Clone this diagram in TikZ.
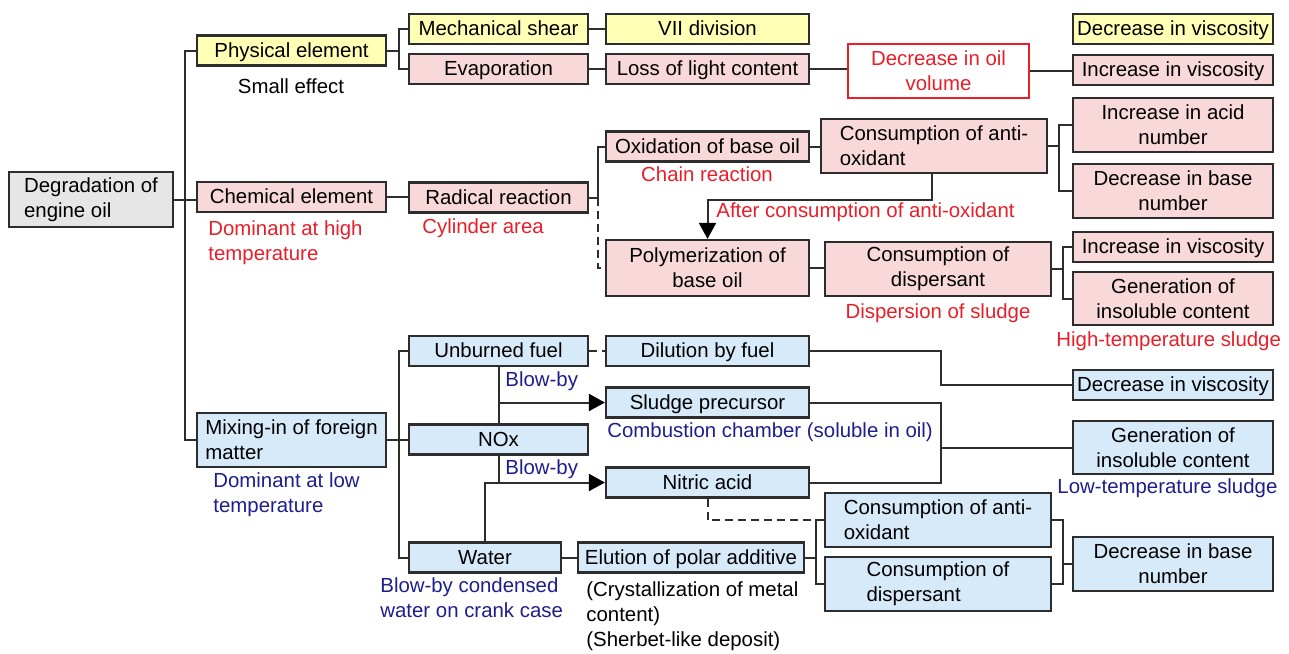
\documentclass[tikz,border=0pt]{standalone}
\usepackage{fontspec}
\setmainfont{Liberation Sans}
\usetikzlibrary{arrows.meta}
\definecolor{boxline}{RGB}{45,45,45}
\definecolor{boxyellow}{RGB}{255,255,182}
\definecolor{boxpink}{RGB}{248,216,216}
\definecolor{boxblue}{RGB}{214,234,250}
\definecolor{boxgray}{RGB}{230,230,230}
\definecolor{txtred}{RGB}{232,30,40}
\definecolor{txtnavy}{RGB}{30,30,140}
\begin{document}
\begin{tikzpicture}[x=0.5pt,y=-0.5pt,font=\fontsize{10.2}{12.5}\selectfont]
\tikzstyle{box}=[draw=boxline,line width=1.1pt,inner sep=1.5pt,minimum height=15pt]
\tikzstyle{yel}=[box,fill=boxyellow]
\tikzstyle{pnk}=[box,fill=boxpink]
\tikzstyle{blu}=[box,fill=boxblue]
\tikzstyle{gry}=[box,fill=boxgray]
\tikzstyle{one}=[text height=8pt,text depth=1.5pt]
\tikzstyle{note}=[inner sep=0pt,anchor=west,align=left]
\tikzstyle{conn}=[draw=boxline,line width=1pt]
\tikzstyle{tip}=[-{Triangle[length=8pt,width=8.5pt,color=black]}]
\tikzstyle{dashline}=[dash pattern=on 4pt off 2.5pt]
\useasboundingbox (0,0) rectangle (1289,653);
\node[gry,minimum width=82pt,minimum height=27.5pt,align=left] (deg) at (91,199.5) {Degradation of\\engine oil};
\node[yel,one,minimum width=94.5pt] (phys) at (291.5,50.5) {Physical element};
\node[pnk,one,minimum width=94.5pt] (chem) at (291.5,197) {Chemical element};
\node[blu,minimum width=94.5pt,minimum height=27pt,align=left] (mix) at (291.5,440) {Mixing-in of foreign\\matter};
\node[yel,one,minimum width=89.5pt] (shear) at (498.5,29) {Mechanical shear};
\node[pnk,one,minimum width=89.5pt] (evap) at (498.5,69) {Evaporation};
\node[yel,one,minimum width=101.5pt] (vii) at (707.5,29) {VII division};
\node[pnk,one,minimum width=101.5pt] (loss) at (707.5,69) {Loss of light content};
\node[box,draw=txtred,fill=white,text=txtred,minimum width=90.5pt,minimum height=27pt,align=center] (oilvol) at (938.5,71) {Decrease in oil\\volume};
\node[yel,one,minimum width=100pt] (dvisc1) at (1173,29) {Decrease in viscosity};
\node[pnk,one,minimum width=100pt] (ivisc1) at (1173,70) {Increase in viscosity};
\node[pnk,one,minimum width=89.5pt] (rad) at (498.5,197.5) {Radical reaction};
\node[pnk,one,minimum width=101.5pt] (oxid) at (707.5,146.5) {Oxidation of base oil};
\node[pnk,minimum width=101.5pt,minimum height=28pt,align=center] (poly) at (707.5,268) {Polymerization of\\base oil};
\node[pnk,minimum width=113pt,minimum height=27pt,align=left] (cao1) at (934,146) {Consumption of anti-\\oxidant};
\node[pnk,minimum width=100pt,minimum height=27pt,align=center] (acid) at (1173,125) {Increase in acid\\number};
\node[pnk,minimum width=100pt,minimum height=27pt,align=center] (base1) at (1173,191) {Decrease in base\\number};
\node[pnk,minimum width=113pt,minimum height=27pt,align=center] (disp1) at (938,269) {Consumption of\\dispersant};
\node[pnk,one,minimum width=100pt] (ivisc2) at (1173,247) {Increase in viscosity};
\node[pnk,minimum width=100pt,minimum height=26.5pt,align=center] (insol1) at (1173,298.5) {Generation of\\insoluble content};
\node[blu,one,minimum width=89.5pt] (unb) at (498.5,351) {Unburned fuel};
\node[blu,one,minimum width=101.5pt] (dil) at (707.5,351) {Dilution by fuel};
\node[blu,one,minimum width=89.5pt] (nox) at (498.5,439.5) {NOx};
\node[blu,one,minimum width=76pt] (water) at (485,557.5) {Water};
\node[blu,one,minimum width=101.5pt] (sludge) at (707.5,402.5) {Sludge precursor};
\node[blu,one,minimum width=101.5pt] (nitric) at (707.5,482.5) {Nitric acid};
\node[blu,one,minimum width=113pt] (elut) at (691,557.5) {Elution of polar additive};
\node[blu,minimum width=113pt,minimum height=27pt,align=left] (cao2) at (938,520) {Consumption of anti-\\oxidant};
\node[blu,minimum width=113pt,minimum height=27pt,align=left] (disp2) at (938,584) {Consumption of\\dispersant};
\node[blu,one,minimum width=100pt] (dvisc2) at (1173,385) {Decrease in viscosity};
\node[blu,minimum width=100pt,minimum height=26.5pt,align=center] (insol2) at (1173,447.5) {Generation of\\insoluble content};
\node[blu,minimum width=100pt,minimum height=27pt,align=center] (base2) at (1173,564) {Decrease in base\\number};
\node[note,anchor=center] (smalleff) at (291,86) {Small effect};
\node[note,text=txtred] (hightemp) at (208,242.5) {Dominant at high\\temperature};
\node[note,text=txtred] (cyl) at (422,228) {Cylinder area};
\node[note,text=txtred,anchor=center] (chain) at (707,174) {Chain reaction};
\node[note,text=txtred] (after) at (716,212) {After consumption of anti-oxidant};
\node[note,text=txtred,anchor=center] (dispsl) at (938,313) {Dispersion of sludge};
\node[note,text=txtred] (hisl) at (1056,341) {High-temperature sludge};
\node[note,text=txtnavy] (blowa) at (505,381) {Blow-by};
\node[note,text=txtnavy] (comb) at (607,432) {Combustion chamber (soluble in oil)};
\node[note,text=txtnavy] (blowb) at (505,469) {Blow-by};
\node[note,text=txtnavy] (lowtemp) at (213,495) {Dominant at low\\temperature};
\node[note,text=txtnavy] (losl) at (1057,488) {Low-temperature sludge};
\node[note,text=txtnavy] (cond) at (380,597.5) {Blow-by condensed\\water on crank case};
\node[note] (cryst) at (586,616.5) {(Crystallization of metal\\content)\\(Sherbet-like deposit)};
\draw[conn] (deg.east) -- ++(11,0) |- (phys.west);
\draw[conn] (deg.east) ++(11,0) |- (mix.west);
\draw[conn] (deg.east) -- (deg.east -| chem.west);
\draw[conn] (phys.east) -- ++(12,0) |- (shear.west);
\draw[conn] (phys.east) ++(12,0) |- (evap.west);
\draw[conn] (shear.east) -- (vii.west);
\draw[conn] (evap.east) -- (loss.west);
\draw[conn] (loss.east) -- (loss.east -| oilvol.west);
\draw[conn] (oilvol.east) -- (oilvol.east -| ivisc1.west);
\draw[conn] (chem.east) -- (chem.east -| rad.west);
\draw[conn] (rad.east) -- ++(9,0) |- (oxid.west);
\draw[conn,dashline] (rad.east) ++(9,0) |- (poly.west);
\draw[conn] (oxid.east) -- (oxid.east -| cao1.west);
\draw[conn] (cao1.east) -- ++(11,0) |- (acid.west);
\draw[conn] (cao1.east) ++(11,0) |- (base1.west);
\draw[conn,tip] ([xshift=-1pt]cao1.south) -- ++(0,26) -| (poly.north);
\draw[conn] (poly.east) -- (poly.east -| disp1.west);
\draw[conn] (disp1.east) -- ++(11,0) |- (ivisc2.west);
\draw[conn] (disp1.east) ++(11,0) |- (insol1.west);
\draw[conn] (mix.east) -- ++(12,0) |- (unb.west);
\draw[conn] (mix.east) ++(12,0) |- (water.west);
\draw[conn] (mix.east) -- (mix.east -| nox.west);
\draw[conn,dashline] (unb.east) -- (dil.west);
\draw[conn] (dil.east) -- ++(131,0) |- (dvisc2.west);
\draw[conn] (sludge.east) -- ++(131,0) |- (nitric.east);
\draw[conn] (sludge.east) ++(131,0) |- (insol2.west);
\draw[conn] (unb.south) -- (nox.north);
\draw[conn,tip] (unb.south |- sludge.west) -- (sludge.west);
\draw[conn] (nox.south) -- (nox.south |- nitric.west);
\draw[conn,tip] (water.north) |- (nitric.west);
\draw[conn] (water.east) -- (elut.west);
\draw[conn,dashline] (nitric.south) |- ([xshift=-5pt]cao2.west);
\draw[conn] (elut.east) -- ++(11,0) |- (cao2.west);
\draw[conn] (elut.east) ++(11,0) |- (disp2.west);
\draw[conn] (cao2.east) -- ++(11,0) |- (base2.west);
\draw[conn] (disp2.east) -- ++(11,0) |- (base2.west);
\end{tikzpicture}
\end{document}
